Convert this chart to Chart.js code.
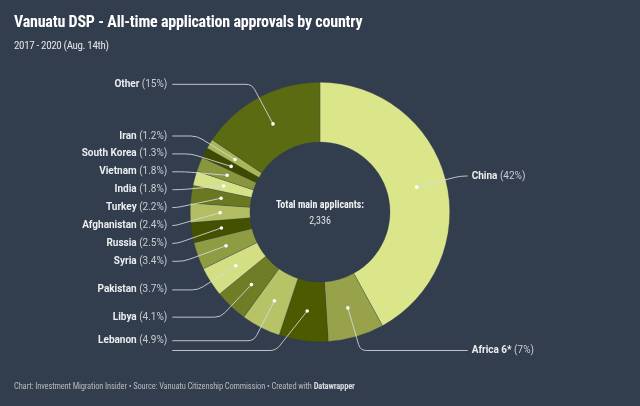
<!DOCTYPE html>
<html>
<head>
<meta charset="utf-8">
<title>Vanuatu DSP - All-time application approvals by country</title>
<script src="https://cdn.jsdelivr.net/npm/chart.js@4.4.1/dist/chart.umd.min.js"></script>
<style>
  html, body { margin: 0; padding: 0; background: #323d4d; }
  #wrap { position: relative; width: 640px; height: 406px; overflow: hidden; font-family: "Roboto Condensed", Roboto, sans-serif; }
  #chart-box { position: absolute; left: 0; top: 0; width: 640px; height: 406px; }
  .title { position: absolute; left: 14px; top: 12px; color: #ffffff; font-size: 16px; font-weight: 700; letter-spacing: -0.2px; white-space: nowrap; }
  .subtitle { position: absolute; left: 14px; top: 39px; color: #e2e4e8; font-size: 11px; letter-spacing: -0.35px; white-space: nowrap; }
  .footer { position: absolute; left: 14px; top: 381px; color: #b4b8be; font-size: 8.5px; letter-spacing: -0.15px; white-space: nowrap; }
  .footer b { color: #d8dade; }
</style>
</head>
<body>
<div id="wrap">
  <div id="chart-box"><canvas id="chart"></canvas></div>
  <div class="title">Vanuatu DSP - All-time application approvals by country</div>
  <div class="subtitle">2017 - 2020 (Aug. 14th)</div>
  <div class="footer">Chart: Investment Migration Insider • Source: Vanuatu Citizenship Commission • Created with <b>Datawrapper</b></div>
</div>
<script>
// clockwise from 12 o'clock; the slice after Africa has no visible label in the original
const categories = ['China', 'Africa 6*', '', 'Lebanon', 'Libya', 'Pakistan', 'Syria', 'Russia',
  'Afghanistan', 'Turkey', 'India', 'Vietnam', 'South Korea', 'Iran', 'Other'];
// slice sizes as measured off the ring (percent of applicants)
const shares = [42, 7, 6.1, 4.9, 4.1, 3.7, 3.4, 2.5, 2.4, 2.2, 1.8, 1.8, 1.3, 1.2, 15.6];
// percentages as printed on the labels
const shareLabels = ['42%', '7%', '', '4.9%', '4.1%', '3.7%', '3.4%', '2.5%', '2.4%', '2.2%',
  '1.8%', '1.8%', '1.3%', '1.2%', '15%'];
const sliceColors = ['#dbe68b', '#97a24b', '#4d5a00', '#b7c367', '#6f7d26', '#d3df82', '#8e9c44',
  '#435100', '#b2be61', '#6a7822', '#d6e287', '#88963d', '#3d4a00', '#aab658', '#5b6b12'];
const totalLabel = 'Total main applicants:';
const totalValue = '2,336';

const LABEL_FONT = 'Roboto, sans-serif';
const GAP = 17.9, MIN_Y = 80, MAX_Y = 350.5;

// push labels downward so they don't overlap; ones pushed off the bottom lose their text
function stack(items) {
  items.sort((a, b) => a.natY - b.natY);
  let prev = -Infinity;
  items.forEach(d => {
    const y = Math.max(d.natY, prev + GAP, MIN_Y);
    if (!categories[d.i] || y > MAX_Y + 6) {
      d.hidden = true;
      d.y = Math.min(d.natY, MAX_Y);
      return;
    }
    d.y = Math.min(y, MAX_Y);
    prev = d.y;
  });
}

const sliceLabels = {
  id: 'sliceLabels',
  afterDatasetsDraw(chart) {
    const ctx = chart.ctx;
    const arcs = chart.getDatasetMeta(0).data;
    const left = [], right = [];
    let cx = 0, cy = 0;
    arcs.forEach((arc, i) => {
      const p = arc.getProps(['x', 'y', 'startAngle', 'endAngle', 'innerRadius', 'outerRadius'], true);
      cx = p.x; cy = p.y;
      const mid = (p.startAngle + p.endAngle) / 2;
      const cos = Math.cos(mid), sin = Math.sin(mid);
      const rm = (p.innerRadius + p.outerRadius) / 2;
      const d = {
        i, cx: p.x, cy: p.y, R: p.outerRadius, cos, sin,
        dotX: p.x + cos * rm, dotY: p.y + sin * rm,
        natY: p.y + sin * (p.outerRadius + 15)
      };
      (cos < 0 ? left : right).push(d);
    });
    stack(left);
    stack(right);

    ctx.save();
    [...left, ...right].forEach(d => {
      const s = d.cos < 0 ? -1 : 1;
      const lineEnd = d.cx + s * (d.R + 18);
      let elbowX = d.cx + d.cos * (d.R + 15);
      if (s < 0) elbowX = Math.max(elbowX, lineEnd); else elbowX = Math.min(elbowX, lineEnd);
      if (d.hidden) elbowX = d.cx + s * (d.R * 0.34);
      // leader line: slanted from the dot, small bend, then horizontal
      const dx = elbowX - d.dotX, dy = d.y - d.dotY;
      const len = Math.hypot(dx, dy) || 1;
      const bend = Math.min(6, len / 2, Math.abs(lineEnd - elbowX));
      ctx.strokeStyle = 'rgba(215,219,224,0.85)';
      ctx.lineWidth = 1;
      ctx.beginPath();
      ctx.moveTo(d.dotX, d.dotY);
      ctx.lineTo(elbowX - dx / len * bend, d.y - dy / len * bend);
      ctx.quadraticCurveTo(elbowX, d.y, elbowX + s * bend, d.y);
      ctx.lineTo(lineEnd, d.y);
      ctx.stroke();
      ctx.fillStyle = '#ffffff';
      ctx.beginPath();
      ctx.arc(d.dotX, d.dotY, 1.8, 0, Math.PI * 2);
      ctx.fill();

      if (d.hidden) return;
      const name = categories[d.i];
      const pct = ' (' + shareLabels[d.i] + ')';
      ctx.textBaseline = 'middle';
      ctx.textAlign = 'left';
      const bold = '700 10px ' + LABEL_FONT, reg = '400 10px ' + LABEL_FONT;
      ctx.font = bold;
      const wName = ctx.measureText(name).width;
      ctx.font = reg;
      const wPct = ctx.measureText(pct).width;
      const x0 = s < 0 ? d.cx - d.R - 23 - wName - wPct : d.cx + d.R + 22;
      ctx.font = bold;
      ctx.fillStyle = '#eceef0';
      ctx.fillText(name, x0, d.y);
      ctx.font = reg;
      ctx.fillStyle = '#c9cdd3';
      ctx.fillText(pct, x0 + wName, d.y);
    });

    ctx.textAlign = 'center';
    ctx.textBaseline = 'middle';
    ctx.fillStyle = '#f0f1f3';
    ctx.font = '700 10px "Roboto Condensed", Roboto, sans-serif';
    ctx.fillText(totalLabel, cx, cy - 7);
    ctx.font = '400 10px "Roboto Condensed", Roboto, sans-serif';
    ctx.fillStyle = '#e2e4e8';
    ctx.fillText(totalValue, cx, cy + 9);
    ctx.restore();
  }
};

new Chart(document.getElementById('chart'), {
  type: 'doughnut',
  data: {
    labels: categories,
    datasets: [{
      data: shares,
      backgroundColor: sliceColors,
      borderColor: 'rgba(50,61,77,0.45)',
      borderWidth: 0.6
    }]
  },
  options: {
    responsive: true,
    maintainAspectRatio: false,
    animation: false,
    events: [],
    cutout: '54%',
    layout: { padding: { top: 82, bottom: 64, left: 190, right: 190 } },
    plugins: {
      legend: { display: false },
      tooltip: { enabled: false }
    }
  },
  plugins: [sliceLabels]
});
</script>
</body>
</html>
